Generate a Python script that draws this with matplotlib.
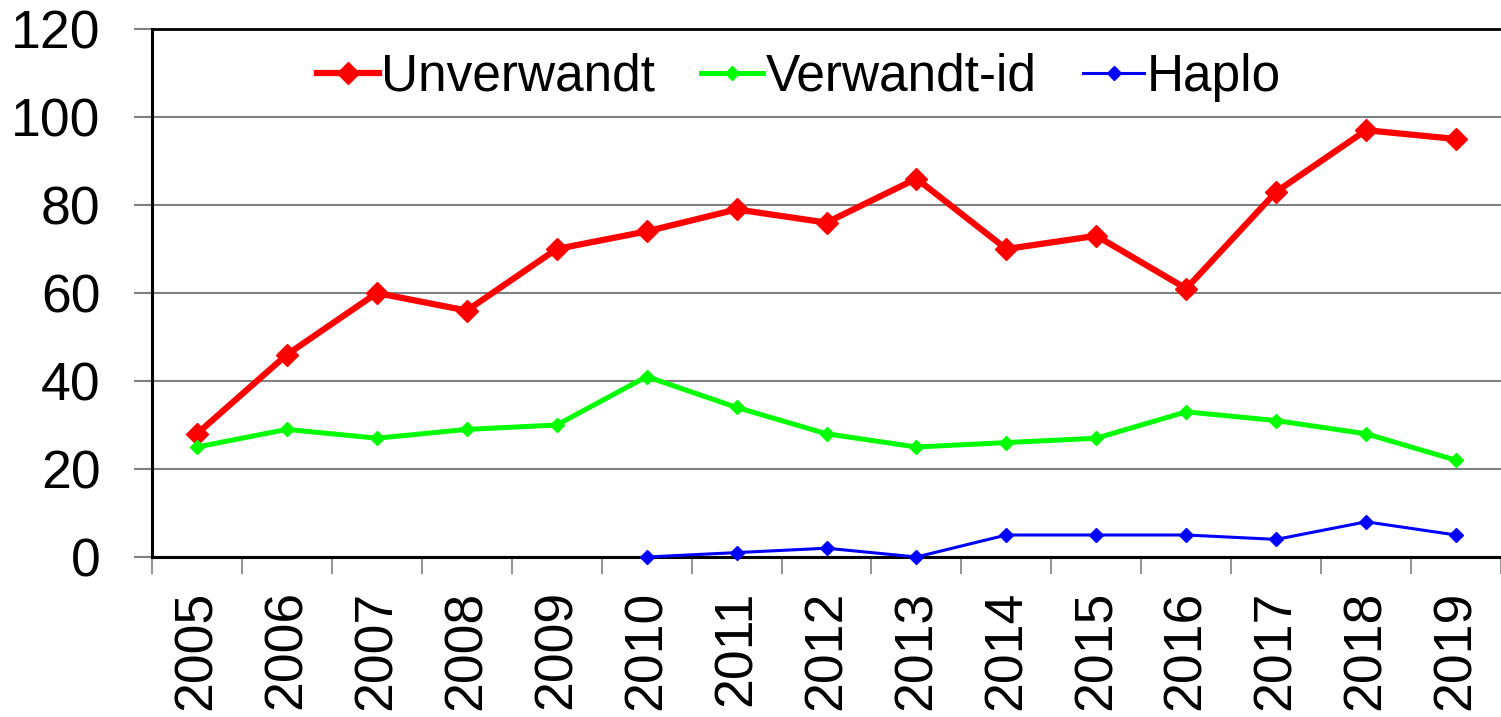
import matplotlib
matplotlib.use("Agg")
import matplotlib.pyplot as plt
import numpy as np

years = ["2005", "2006", "2007", "2008", "2009", "2010", "2011", "2012",
         "2013", "2014", "2015", "2016", "2017", "2018", "2019"]
unverwandt = [28, 46, 60, 56, 70, 74, 79, 76, 86, 70, 73, 61, 83, 97, 95]
verwandt_id = [25, 29, 27, 29, 30, 41, 34, 28, 25, 26, 27, 33, 31, 28, 22]
haplo_years = ["2010", "2011", "2012", "2013", "2014", "2015", "2016", "2017", "2018", "2019"]
haplo = [0, 1, 2, 0, 5, 5, 5, 4, 8, 5]
y_ticks = [0, 20, 40, 60, 80, 100, 120]

plt.rcParams['font.family'] = ['Liberation Sans', 'DejaVu Sans']

fig = plt.figure(figsize=(15.01, 7.17), dpi=100)
ax = fig.add_axes([152/1501, (717-557)/717, (1501-152)/1501, (557-29)/717])

x = np.arange(len(years))
hx = np.array([years.index(y) for y in haplo_years])

ax.plot(x, unverwandt, color='#ff0000', lw=4.5, marker='D', ms=11.5,
        label='Unverwandt', zorder=3, clip_on=False)
ax.plot(x, verwandt_id, color='#00ff00', lw=3.6, marker='D', ms=7.5,
        label='Verwandt-id', zorder=4, clip_on=False)
ax.plot(hx, haplo, color='#0000ff', lw=2.2, marker='D', ms=7,
        label='Haplo', zorder=5, clip_on=False)

ax.set_xlim(-0.5, len(years) - 0.5)
ax.set_ylim(0, 120)
ax.set_yticks(y_ticks)
ax.set_yticklabels([str(v) for v in y_ticks], fontsize=38.5)
ax.set_xticks(x)
ax.set_xticklabels(years, rotation=90, fontsize=38.5)
ax.set_xticks(np.arange(len(years) + 1) - 0.5, minor=True)
ax.tick_params(axis='x', which='major', length=0, pad=24)
ax.tick_params(axis='x', which='minor', length=12, width=1.2, color='#808080')
ax.tick_params(axis='y', which='major', length=13, width=1.5, color='#808080', pad=24)

ax.yaxis.grid(True, color='#808080', lw=1.5)
ax.set_axisbelow(True)
for s in ['left', 'bottom']:
    ax.spines[s].set_linewidth(2.2)
    ax.spines[s].set_color('black')
ax.spines['top'].set_linewidth(2.0)
ax.spines['right'].set_visible(False)

leg = ax.legend(loc='center', bbox_to_anchor=((799-152)/1349, (557-77)/528),
                ncol=3, frameon=False, fontsize=37, handlelength=1.2,
                handletextpad=0.05, columnspacing=0.9, borderpad=0)

fig.savefig('out.png', dpi=100)
